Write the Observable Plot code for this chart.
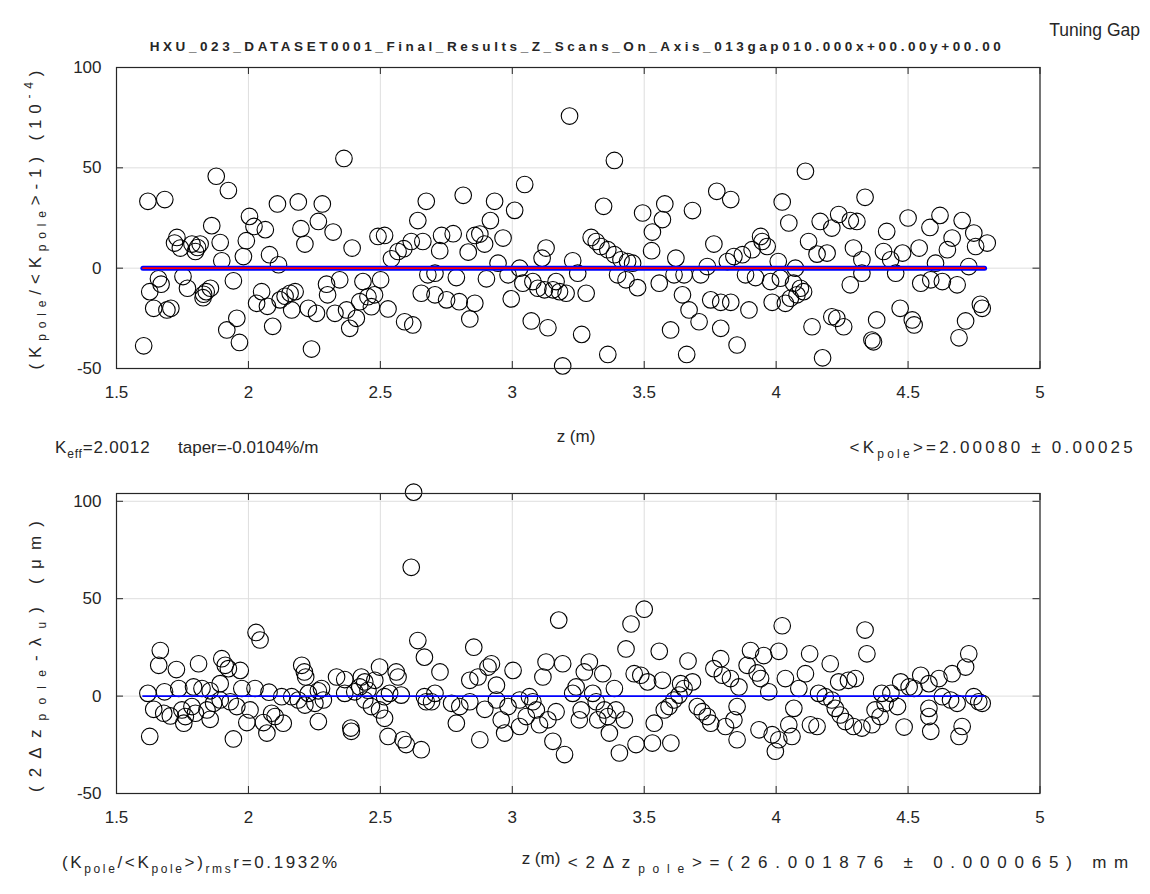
<!DOCTYPE html>
<html>
<head>
<meta charset="utf-8">
<script src="https://cdn.jsdelivr.net/npm/d3@7"></script>
<script src="https://cdn.jsdelivr.net/npm/@observablehq/plot@0.6"></script>
<style>
  body { margin: 0; background: #fff; }
  #chart { position: relative; width: 1150px; height: 894px; background: #fff; overflow: hidden;
           font-family: 'Liberation Sans', Arial, Helvetica, sans-serif; color: #262626; }
  .t { position: absolute; white-space: nowrap; line-height: 1; font-size: 17px; }
  .t sub { font-size: 12px; vertical-align: -5px; line-height: 0; }
  .t sup { font-size: 12px; vertical-align: 8px; line-height: 0; }
  .c { transform: translate(-50%, -50%); }
  .l { transform: translate(0, -50%); }
  .r { transform: translate(-100%, -50%); }
  .rot { transform: translate(-50%, -50%) rotate(-90deg); }
</style>
</head>
<body>
<div id="chart">
  <div id="topPlot" style="position:absolute;left:0;top:0"></div>
  <div id="botPlot" style="position:absolute;left:0;top:440px"></div>
  <div class="t r" style="left:1140px;top:31px;font-size:17.5px;">Tuning Gap</div>
  <div class="t c fit" data-w="855" style="left:577px;top:47px;font-size:13.5px;font-weight:bold;">HXU_023_DATASET0001_Final_Results_Z_Scans_On_Axis_013gap010.000x+00.00y+00.00</div>
  <div class="t rot fit" data-w="305" style="left:35px;top:217px;">(K<sub>pole</sub>/&lt;K<sub>pole</sub>&gt;-1) (10<sup>-4</sup>)</div>
  <div class="t c" style="left:576px;top:436px;">z (m)</div>
  <div class="t l fit" data-w="95" style="left:55px;top:447px;">K<sub>eff</sub>=2.0012</div>
  <div class="t l" style="left:178px;top:447px;">taper=-0.0104%/m</div>
  <div class="t r fit" data-w="287" style="left:1136px;top:447px;">&lt;K<sub>pole</sub>&gt;=2.00080 ± 0.00025</div>
  <div class="t rot fit" data-w="280" style="left:35px;top:652px;">(2Δz<sub>pole</sub>-λ<sub>u</sub>) (μm)</div>
  <div class="t c" style="left:541px;top:858px;">z (m)</div>
  <div class="t l fit" data-w="278" style="left:62px;top:862px;">(K<sub>pole</sub>/&lt;K<sub>pole</sub>&gt;)<sub>rms</sub>r=0.1932%</div>
  <div class="t r fit" data-w="568" style="left:1136px;top:862px;">&lt;2Δz<sub>pole</sub>&gt;=(26.001876 ± 0.000065) mm</div>
</div>
<script>
// ---------- data ----------
const xTicks = [1.5, 2, 2.5, 3, 3.5, 4, 4.5, 5];
const xTickLabels = ["1.5", "2", "2.5", "3", "3.5", "4", "4.5", "5"];
const topYTicks = [-50, 0, 50, 100];
const topYTickLabels = ["-50", "0", "50", "100"];
const botYTicks = [-50, 0, 50, 100];
const botYTickLabels = ["-50", "0", "50", "100"];

// top panel: K_pole/<K_pole>-1 (1e-4)
const topZ = [1.603,1.619,1.626,1.641,1.659,1.669,1.683,1.691,1.706,1.720,1.729,1.742,1.752,1.769,1.786,1.799,1.807,1.817,1.828,1.830,1.840,1.856,1.861,1.878,1.893,1.899,1.918,1.924,1.943,1.956,1.966,1.981,1.992,2.004,2.021,2.031,2.050,2.064,2.072,2.080,2.092,2.110,
2.114,2.120,2.139,2.158,2.164,2.177,2.189,2.199,2.214,2.227,2.239,2.258,2.265,2.280,2.296,2.300,2.321,2.328,2.346,2.362,2.372,2.384,2.393,2.409,2.422,2.434,2.453,2.466,2.478,2.491,2.501,2.516,2.529,2.542,2.567,2.589,2.592,2.617,2.623,2.642,2.655,2.661,2.674,2.680,
2.707,2.707,2.725,2.732,2.751,2.776,2.788,2.799,2.814,2.833,2.839,2.858,2.858,2.877,2.895,2.902,2.917,2.933,2.946,2.965,2.984,2.996,3.009,3.028,3.040,3.047,3.072,3.078,3.097,3.113,3.122,3.128,3.135,3.154,3.166,3.179,3.191,3.204,3.217,3.229,
3.248,3.263,3.280,3.299,3.318,3.336,3.346,3.362,3.362,3.387,3.387,3.399,3.412,3.431,3.437,3.456,3.475,3.494,3.528,3.531,3.557,3.569,3.578,3.600,3.613,3.620,3.645,3.651,3.661,3.670,3.683,3.708,3.714,3.739,3.752,3.764,3.775,3.790,3.790,3.815,3.828,3.828,3.840,3.852,
3.872,3.884,3.897,3.909,3.922,3.941,3.947,3.966,3.979,3.985,4.008,4.016,4.023,4.035,4.048,4.054,4.066,4.073,4.079,4.092,4.104,4.111,4.123,4.136,4.155,4.167,4.176,4.193,4.211,4.211,4.230,4.237,4.256,4.281,4.281,4.293,4.306,4.325,4.325,4.337,4.363,4.369,4.381,4.407,4.419,
4.434,4.453,4.470,4.479,4.500,4.516,4.523,4.542,4.548,4.583,4.586,4.604,4.621,4.630,4.649,4.667,4.686,4.693,4.705,4.718,4.730,4.749,4.756,4.774,4.781,4.800];
const topVal = [-38.7,33.3,-11.7,-20,-5.3,-8,34.2,-20.8,-20,12.5,15.3,10,-4.2,-10,12,8.3,10.3,12,-14.7,-13,-11.7,-10,21.2,45.8,12.8,3.7,-30.8,38.7,-6.3,-25,-37,5.8,13.7,25.8,20.8,-17.5,-11.7,19.2,-19,6.7,-29,32,
1.7,-15.8,-14,-12.5,-20.8,-11.7,33,19.7,12,-20,-40.3,-22.5,23.3,32,-8,-13.3,18,-22.5,-5.8,54.7,-20.8,-30,10,-25,-16.7,-6.7,-14.2,-19.2,-13.3,15.8,-5.8,16.3,-20.3,4.7,8.3,9.7,-26.7,13.3,-28.3,23.7,-12.5,13.3,33.3,-3.3,
-2.5,-13.3,8.7,16.3,-15.8,17.2,-4.7,-16.7,36.3,8,-25.3,16.3,-17.5,17,12,-5.3,23.7,33.3,2.5,15,-3.3,-15.3,28.8,0,-7.5,41.7,-26.3,-6.7,-10,5,-10.8,10,-29.7,-10.8,-6.7,-11.7,-48.7,-12.5,75.8,3.7,
-2.5,-33,-12.5,15.3,13.3,10.8,30.8,9.2,-43,53.7,6.7,-3.3,4.2,-5.8,3.3,2.5,-9.7,27.5,8.7,18,-7.5,24.2,32,-30.8,-3.3,5,-13.3,-3.3,-43,-20.8,28.7,-26.7,-3.3,0.8,-15.8,12,38.3,-17,-30,3.3,34.2,-17,5.8,-38.3,
6.7,-3.3,-20.8,9.2,-4.7,15.8,13.3,10.8,-6.7,-17,3.3,-5,33,-17.5,22.5,-15,-7.5,0,-13.3,-10,-11.7,48.3,13.3,-29.2,7,23.3,-44.7,7.5,20,-24.2,-25,26.7,-29.2,23.7,-8.3,10,23.3,4.2,-2.5,35.3,-35.8,-36.7,-25.8,8.3,18.3,
4.2,-2.5,-20,7.5,25,-25.8,-28.3,10,-7.5,20.3,-5.8,2.5,26.3,-6.7,9.2,15,-8.3,-34.7,23.7,-26.3,0.8,17.5,10.8,-18,-20,12.5];

// bottom panel: 2*dz_pole - lambda_u (um)
const botZ = [1.619,1.626,1.641,1.660,1.666,1.679,1.682,1.704,1.727,1.736,1.748,1.755,1.761,1.786,1.792,1.799,1.811,1.824,1.843,1.855,1.855,1.868,1.893,1.893,1.899,1.912,1.924,1.931,1.943,1.956,1.969,1.975,1.994,2.006,2.025,2.029,2.044,2.057,2.078,2.088,
2.070,2.101,2.126,2.132,2.164,2.189,2.202,2.212,2.214,2.217,2.227,2.252,2.265,2.265,2.277,2.284,2.334,2.365,2.365,2.388,2.390,2.403,2.422,2.428,2.441,2.441,2.453,2.466,2.479,2.497,2.497,2.516,2.516,2.529,2.535,2.560,2.567,2.579,2.586,2.598,2.617,2.626,2.642,2.655,2.667,2.667,2.674,
2.694,2.707,2.726,2.770,2.788,2.801,2.839,2.839,2.854,2.870,2.877,2.896,2.908,2.921,2.940,2.940,2.958,2.971,2.984,3.003,3.028,3.028,3.053,3.065,3.078,3.091,3.103,3.116,3.128,3.135,3.154,3.166,3.176,3.191,3.198,3.229,3.242,3.254,
3.261,3.273,3.292,3.305,3.318,3.324,3.343,3.349,3.362,3.368,3.387,3.393,3.406,3.425,3.431,3.450,3.462,3.469,3.487,3.500,3.513,3.531,3.538,3.557,3.569,3.576,3.594,3.601,3.613,3.632,3.638,3.651,3.666,3.683,3.701,3.720,3.739,3.752,3.764,3.790,3.796,3.808,3.827,3.840,3.852,3.852,
3.859,3.890,3.903,3.928,3.935,3.941,3.953,3.972,3.985,3.997,4.010,4.010,4.023,4.035,4.048,4.060,4.067,4.086,4.111,4.127,4.130,4.155,4.161,4.186,4.205,4.211,4.224,4.237,4.243,4.262,4.274,4.293,4.300,4.325,4.337,4.344,4.363,4.375,4.394,4.400,4.413,
4.435,4.460,4.472,4.485,4.504,4.523,4.548,4.579,4.579,4.579,4.586,4.617,4.630,4.661,4.667,4.686,4.693,4.705,4.718,4.730,4.749,4.768,4.781];
const botVal = [1.4,-20.7,-6.8,15.8,23.4,-8.8,2.2,-10.2,13.6,3.9,-7.1,-13.9,-10.5,-5.4,4.7,-8.8,16.6,3.9,-7.1,2.7,-11.9,-3.7,6.4,-2,19.2,15.8,14.1,-2.9,-22,-5.4,13.2,3.9,-13.6,-7.1,3.9,32.7,28.8,-13.6,2,-8.8,
-19,-10.5,-0.3,-13.9,-0.3,-2,15.8,12.4,-4.6,9.8,1.4,-3.7,2.7,-13.1,3.9,-2,9.8,8.5,1.4,-16.4,-18.1,2.2,4.7,9.8,7.3,-2,3,-5.4,8.1,14.9,-7.1,-0.3,-11.4,-20.7,1.4,12.4,9.8,0.5,-22.4,-24.9,66.1,104.7,28.5,-27.5,20,-0.3,-2.9,
-2.9,1.4,12.4,-3.7,-13.9,-5.4,8.1,-2.9,25.1,9.8,-22.4,-6.8,14.9,16.6,5.6,-2,-12.2,-19,-5.4,13.2,-2,-15.6,-10.5,-0.3,-2.9,-7.1,-14.7,9.8,17.5,-12.2,-23.2,-8,39,16.6,-30,1.4,4.7,-12.2,
-7.1,12.4,17.5,1.4,-2.9,-12.2,11.5,-7.1,-10.5,-19,3.9,-7.1,-29.2,-12.2,24.2,37,11.5,-24.9,10.7,44.6,7.3,-24.1,-13.9,23,8.1,-7.1,-5.4,-24.1,-2,0.5,6.4,3.9,18,7.3,-5.4,-8,-10.5,-13.9,14.1,19.2,10.7,-15.6,9,-12.2,-5.4,-22.4,
4.7,15.8,23.4,11.9,-17.3,9,20.8,2.2,-19.8,-28.3,23,-22.4,36.1,9,-14.7,-20.7,-6.3,3.9,11.5,21.7,-14.7,-15.6,1.4,-0.3,16.6,-2,-6.3,7.3,-9.7,-13.1,8.1,-15.6,9,-16.4,33.9,21.7,-14.7,-7.1,-10.5,1.4,-3.7,
1.4,-5.4,7.3,-15.9,4.7,3.9,10.7,6.4,-6.3,-10.5,-18.1,9,-0.3,-2,11.5,-3.7,-20.7,-15.6,14.9,21.7,-0.3,-2.9,-3.7];

// reference / fit lines
const lineZ = [1.6, 4.79];
const topLineVal = [0, 0];
const botLineVal = [0, 0];

// ---------- build ----------
const FONT = "'Liberation Sans', Arial, Helvetica, sans-serif";
const W = 1150;
const ML = 116, MR = 110.5;
const FW = W - ML - MR;

function panel({z, v, yTicks, yLabels, yDomain, height, mt, mb, lines}) {
  const FH = height - mt - mb;
  const pts = z.map((d, i) => ({z: d, v: v[i]}));
  const fmtX = d => xTickLabels[xTicks.indexOf(d)];
  const fmtY = d => yLabels[yTicks.indexOf(d)];
  return Plot.plot({
    width: W, height,
    marginLeft: ML, marginRight: MR, marginTop: mt, marginBottom: mb,
    x: {domain: [1.5, 5]},
    y: {domain: yDomain},
    style: {fontFamily: FONT, color: "#262626", background: "transparent"},
    marks: [
      Plot.gridX(xTicks, {stroke: "#dedede", strokeOpacity: 1, strokeWidth: 1}),
      Plot.gridY(yTicks, {stroke: "#dedede", strokeOpacity: 1, strokeWidth: 1}),
      Plot.dot(pts, {x: "z", y: "v", r: 8.3, stroke: "#000", strokeWidth: 1.1, fill: "none"}),
      ...lines,
      Plot.ruleX(xTicks, {x: d => d, insetTop: FH - 7, stroke: "#262626"}),
      Plot.ruleX(xTicks, {x: d => d, insetBottom: FH - 7, stroke: "#262626"}),
      Plot.ruleY(yTicks, {y: d => d, insetRight: FW - 7, stroke: "#262626"}),
      Plot.ruleY(yTicks, {y: d => d, insetLeft: FW - 7, stroke: "#262626"}),
      Plot.frame({stroke: "#262626", strokeWidth: 1.2}),
      Plot.axisX(xTicks, {tickSize: 0, tickPadding: 17, tickFormat: fmtX, fontSize: 17, label: null}),
      Plot.axisY(yTicks, {tickSize: 0, tickPadding: 15, tickFormat: fmtY, fontSize: 17, label: null})
    ]
  });
}

const topLines = lineZ.map((d, i) => ({z: d, v: topLineVal[i]}));
const botLines = lineZ.map((d, i) => ({z: d, v: botLineVal[i]}));

const topChart = panel({
  z: topZ, v: topVal, yTicks: topYTicks, yLabels: topYTickLabels, yDomain: [-50, 100],
  height: 440, mt: 67, mb: 72,
  lines: [
    Plot.line(topLines, {x: "z", y: "v", stroke: "#0000ff", strokeWidth: 5}),
    Plot.line(topLines, {x: "z", y: "v", stroke: "#ff0000", strokeWidth: 1.6})
  ]
});
document.getElementById("topPlot").appendChild(topChart);

const botChart = panel({
  z: botZ, v: botVal, yTicks: botYTicks, yLabels: botYTickLabels, yDomain: [-50, 104],
  height: 454, mt: 53, mb: 101,
  lines: [
    Plot.line(botLines, {x: "z", y: "v", stroke: "#0000ff", strokeWidth: 1.6})
  ]
});
document.getElementById("botPlot").appendChild(botChart);

// stretch texts to the widths they have in the reference
document.querySelectorAll(".fit").forEach(el => {
  const target = +el.dataset.w;
  const w0 = el.offsetWidth;
  const n = el.textContent.length;
  el.style.letterSpacing = ((target - w0) / n) + "px";
});
</script>
</body>
</html>
